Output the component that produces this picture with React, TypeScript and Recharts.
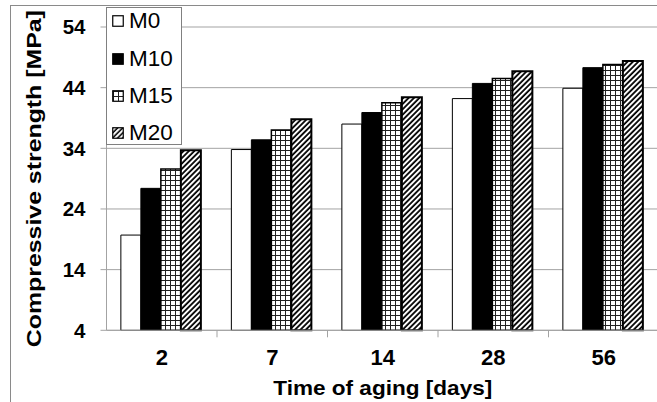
import React from 'react';
import { BarChart, Bar, XAxis, YAxis, CartesianGrid } from 'recharts';

const categories = ['2', '7', '14', '28', '56'];
const seriesNames = ['M0', 'M10', 'M15', 'M20'];
const m0 = [19.7, 33.8, 38.0, 42.2, 43.9];
const m10 = [27.4, 35.4, 39.9, 44.7, 47.3];
const m15 = [30.6, 37.0, 41.5, 45.5, 47.8];
const m20 = [33.7, 38.8, 42.4, 46.7, 48.4];
const yTicks = [4, 14, 24, 34, 44, 54];

const data = categories.map((c, i) => ({ cat: c, M0: m0[i], M10: m10[i], M15: m15[i], M20: m20[i] }));

const FONT = '"Liberation Sans", Arial, sans-serif';
const GRID = '#a3a3a3';
const X_TICK_MARGIN = 19.5;

const fills: Record<string, string> = {
  M0: '#ffffff',
  M10: '#000000',
  M15: 'url(#gridPat)',
  M20: 'url(#hatchPat)',
};
const strokeW: Record<string, number> = { M0: 1, M10: 1, M15: 1.5, M20: 2 };

const Swatch = ({ name }: { name: string }) => (
  <svg width={12} height={12} style={{ display: 'block', flex: 'none' }}>
    <defs>
      <pattern id={'lg' + name} patternUnits="userSpaceOnUse" width={5} height={5} x={1} y={1}>
        <rect width={5} height={5} fill="#fff" />
        <line x1={0.5} y1={0} x2={0.5} y2={5} stroke="#222" strokeWidth={1} />
        <line x1={0} y1={0.5} x2={5} y2={0.5} stroke="#222" strokeWidth={1} />
      </pattern>
      <pattern id={'lh' + name} patternUnits="userSpaceOnUse" width={3.6} height={3.6} patternTransform="rotate(45)">
        <rect width={3.6} height={3.6} fill="#fff" />
        <line x1={1} y1={0} x2={1} y2={3.6} stroke="#000" strokeWidth={1.5} />
      </pattern>
    </defs>
    <rect
      x={0.75}
      y={0.75}
      width={10.5}
      height={10.5}
      fill={name === 'M0' ? '#fff' : name === 'M10' ? '#000' : name === 'M15' ? `url(#lg${name})` : `url(#lh${name})`}
      stroke="#000"
      strokeWidth={1.2}
    />
  </svg>
);

const LegendBox = () => (
  <div
    style={{
      position: 'absolute',
      left: 106,
      top: 7,
      width: 76,
      height: 138,
      boxSizing: 'border-box',
      border: '1px solid #808080',
      background: '#fff',
      fontFamily: FONT,
    }}
  >
    <div style={{ position: 'absolute', left: 0, top: -5.5 }}>
      {seriesNames.map((n) => (
        <div key={n} style={{ display: 'flex', alignItems: 'center', height: 37.4, paddingLeft: 5 }}>
          <Swatch name={n} />
          <span style={{ fontSize: 22.5, marginLeft: 5, color: '#000', lineHeight: '22px', whiteSpace: 'nowrap' }}>{n}</span>
        </div>
      ))}
    </div>
  </div>
);

const XTick = (props: any) => {
  const { x, y, payload } = props;
  const half = payload && payload.offset ? payload.offset : 0;
  const axisY = y - X_TICK_MARGIN;
  return (
    <g>
      <line x1={x + half} y1={axisY} x2={x + half} y2={axisY + 7} stroke={GRID} strokeWidth={1} />
      <text
        x={x}
        y={y}
        dy="0.71em"
        textAnchor="middle"
        fontFamily={FONT}
        fontWeight="bold"
        fontSize={22}
        fill="#000"
      >
        {payload.value}
      </text>
    </g>
  );
};

const YLabel = (props: any) => {
  const vb = props.viewBox;
  const x = vb.x + 34;
  const y = vb.y + vb.height / 2;
  return (
    <text
      x={x}
      y={y}
      transform={`rotate(-90, ${x}, ${y})`}
      textAnchor="middle"
      dominantBaseline="central"
      fontFamily={FONT}
      fontWeight="bold"
      fontSize={20.5}
      textLength={337}
      lengthAdjust="spacingAndGlyphs"
      fill="#000"
    >
      Compressive strength [MPa]
    </text>
  );
};

const XLabel = (props: any) => {
  const vb = props.viewBox;
  return (
    <text
      x={vb.x + vb.width / 2}
      y={vb.y + 64.7}
      textAnchor="middle"
      fontFamily={FONT}
      fontWeight="bold"
      fontSize={21}
      textLength={219}
      lengthAdjust="spacingAndGlyphs"
      fill="#000"
    >
      Time of aging [days]
    </text>
  );
};

export default function App() {
  return (
    <div style={{ position: 'fixed', left: 0, top: 0, width: 657, height: 402, overflow: 'hidden', background: '#fff' }}>
      <div
        style={{
          position: 'absolute',
          left: 10,
          top: 5,
          width: 800,
          height: 600,
          border: '1px solid #8a8a8a',
        }}
      />
      <div style={{ position: 'absolute', left: 0, top: 0 }}>
        <BarChart
          width={670}
          height={402}
          data={data}
          margin={{ top: 27, right: 11, bottom: 0, left: 0 }}
          barCategoryGap="13%"
          barGap={0}
        >
          <defs>
            <pattern id="gridPat" patternUnits="userSpaceOnUse" width={5} height={5}>
              <rect width={5} height={5} fill="#fff" />
              <line x1={0.5} y1={0} x2={0.5} y2={5} stroke="#222" strokeWidth={1} />
              <line x1={0} y1={0.5} x2={5} y2={0.5} stroke="#222" strokeWidth={1} />
            </pattern>
            <pattern id="hatchPat" patternUnits="userSpaceOnUse" width={3.8} height={3.8} patternTransform="rotate(45)">
              <rect width={3.8} height={3.8} fill="#fff" />
              <line x1={1} y1={0} x2={1} y2={3.8} stroke="#000" strokeWidth={1.8} />
            </pattern>
          </defs>
          <CartesianGrid vertical={false} stroke={GRID} strokeWidth={1} />
          <XAxis
            dataKey="cat"
            height={71.7}
            tickLine={false}
            tickSize={0}
            tickMargin={X_TICK_MARGIN}
            interval={0}
            axisLine={{ stroke: GRID, strokeWidth: 1 }}
            tick={<XTick />}
            label={<XLabel />}
          />
          <YAxis
            type="number"
            domain={[4, 54]}
            ticks={yTicks}
            width={106.5}
            interval={0}
            tickSize={6}
            tickMargin={15}
            axisLine={{ stroke: GRID, strokeWidth: 1 }}
            tickLine={{ stroke: GRID }}
            tick={{ fontFamily: FONT, fontWeight: 'bold', fontSize: 20.5, fill: '#000' }}
            label={<YLabel />}
          />
          {seriesNames.map((n) => (
            <Bar
              key={n}
              dataKey={n}
              fill={fills[n]}
              stroke="#000"
              strokeWidth={strokeW[n]}
              isAnimationActive={false}
            />
          ))}
        </BarChart>
      </div>
      <LegendBox />
    </div>
  );
}
